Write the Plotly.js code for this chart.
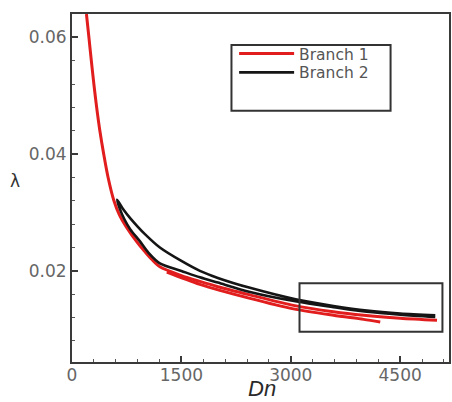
<!DOCTYPE html>
<html>
<head>
<meta charset="utf-8">
<script src="https://cdn.plot.ly/plotly-3.0.1.min.js"></script>
<style>html,body{margin:0;padding:0;background:#fff;}#chart{width:452px;height:402px;}</style>
</head>
<body>
<div id="chart"></div>
<script>
// Branch 1 (red): main curve
const branch1Dn = [198, 232, 265, 300, 338, 382, 435, 495, 573, 650, 747, 900, 1000, 1100, 1205, 1500, 1754, 2000, 2441, 3036, 3585, 4000, 4500, 5006];
const branch1Lambda = [0.064, 0.060, 0.056, 0.052, 0.048, 0.044, 0.040, 0.036, 0.0321, 0.0296, 0.0275, 0.0248, 0.0233, 0.0219, 0.0207, 0.0192, 0.0182, 0.0173, 0.0159, 0.0141, 0.0130, 0.0124, 0.0119, 0.01155];
// Branch 1 (red): second, slightly lower strand
const branch1bDn = [1300, 1754, 2441, 3036, 3585, 4000, 4227];
const branch1bLambda = [0.0198, 0.0177, 0.0153, 0.0135, 0.0124, 0.0117, 0.01125];
// Branch 2 (black): upper strand from the turning point
const branch2UpDn = [618, 700, 800, 900, 1000, 1205, 1500, 1754, 2000, 2441, 3082, 3585, 4044, 4501, 4982];
const branch2UpLambda = [0.0322, 0.0306, 0.0290, 0.0276, 0.0263, 0.0240, 0.0217, 0.0200, 0.0188, 0.0171, 0.0151, 0.0140, 0.0132, 0.0127, 0.0124];
// Branch 2 (black): lower strand from the turning point
const branch2LowDn = [618, 660, 720, 800, 930, 1050, 1205, 1500, 1754, 2000, 2441, 3082, 3585, 4044, 4501, 4982];
const branch2LowLambda = [0.0322, 0.0305, 0.0288, 0.0271, 0.0251, 0.0231, 0.0213, 0.0200, 0.0189, 0.0180, 0.0164, 0.01475, 0.0138, 0.0130, 0.0125, 0.0121];

const xTicks = [0, 1500, 3000, 4500];
const xTickText = ['0', '1500', '3000', '4500'];
const yTicks = [0.02, 0.04, 0.06];
const yTickText = ['0.02', '0.04', '0.06'];
const legendNames = ['Branch 1', 'Branch 2'];

const redX = branch1Dn.concat([null], branch1bDn);
const redY = branch1Lambda.concat([null], branch1bLambda);
const blackX = branch2LowDn.slice().reverse().concat(branch2UpDn.slice(1));
const blackY = branch2LowLambda.slice().reverse().concat(branch2UpLambda.slice(1));

const traces = [
  {x: redX, y: redY, mode: 'lines', name: legendNames[0], connectgaps: false, legend: 'legend',
   line: {color: '#e11d1d', width: 3, shape: 'spline', smoothing: 0.8}},
  {x: blackX, y: blackY, mode: 'lines', name: legendNames[1], legend: 'legend2',
   line: {color: '#151515', width: 2.6, shape: 'spline', smoothing: 0.8}}
];

const tickFont = {family: 'DejaVu Sans, sans-serif', size: 17, color: '#666'};
const axisCommon = {
  showgrid: false, zeroline: false, showline: true, linecolor: '#3a3a3a', linewidth: 2,
  mirror: true, ticks: 'inside', ticklen: 6, tickwidth: 2, tickcolor: '#3a3a3a',
  tickfont: tickFont
};
const legendCommon = {xanchor: 'left', yanchor: 'middle', bgcolor: 'rgba(0,0,0,0)',
  borderwidth: 0, itemwidth: 55,
  font: {family: 'DejaVu Sans, sans-serif', size: 15.5, color: '#555'}};

const layout = {
  width: 452, height: 402,
  margin: {l: 72, r: 3, t: 14, b: 40},
  paper_bgcolor: '#fff', plot_bgcolor: '#fff',
  showlegend: true,
  legend: Object.assign({}, legendCommon, {x: 0.43, y: 0.885}),
  legend2: Object.assign({}, legendCommon, {x: 0.43, y: 0.831}),
  xaxis: Object.assign({}, axisCommon, {
    range: [0, 5170], tickvals: xTicks, ticktext: xTickText, ticklabelstandoff: -3,
    minor: {dtick: 300, tick0: 0, ticks: 'inside', ticklen: 3, tickcolor: '#555', tickwidth: 1}
  }),
  yaxis: Object.assign({}, axisCommon, {
    range: [0.0044, 0.064], tickvals: yTicks, ticktext: yTickText,
    minor: {dtick: 0.004, tick0: 0, ticks: 'inside', ticklen: 3, tickcolor: '#555', tickwidth: 1}
  }),
  shapes: [
    {type: 'rect', xref: 'paper', yref: 'paper', x0: 0.423, x1: 0.845, y0: 0.722, y1: 0.911,
     line: {color: '#333', width: 2}},
    {type: 'rect', xref: 'x', yref: 'y', x0: 3120, x1: 5080, y0: 0.0096, y1: 0.0179,
     line: {color: '#333', width: 2}}
  ],
  annotations: [
    {text: 'λ', xref: 'paper', yref: 'paper', x: -0.17, y: 0.52, showarrow: false,
     font: {family: 'DejaVu Sans, sans-serif', size: 17, color: '#333'}},
    {text: '<i>Dn</i>', xref: 'paper', yref: 'paper', x: 0.504, y: -0.077, yanchor: 'middle',
     showarrow: false, font: {family: 'Liberation Sans, Arial, sans-serif', size: 22, color: '#2a2a2a'}}
  ]
};

Plotly.newPlot('chart', traces, layout, {displayModeBar: false, staticPlot: true});
</script>
</body>
</html>
